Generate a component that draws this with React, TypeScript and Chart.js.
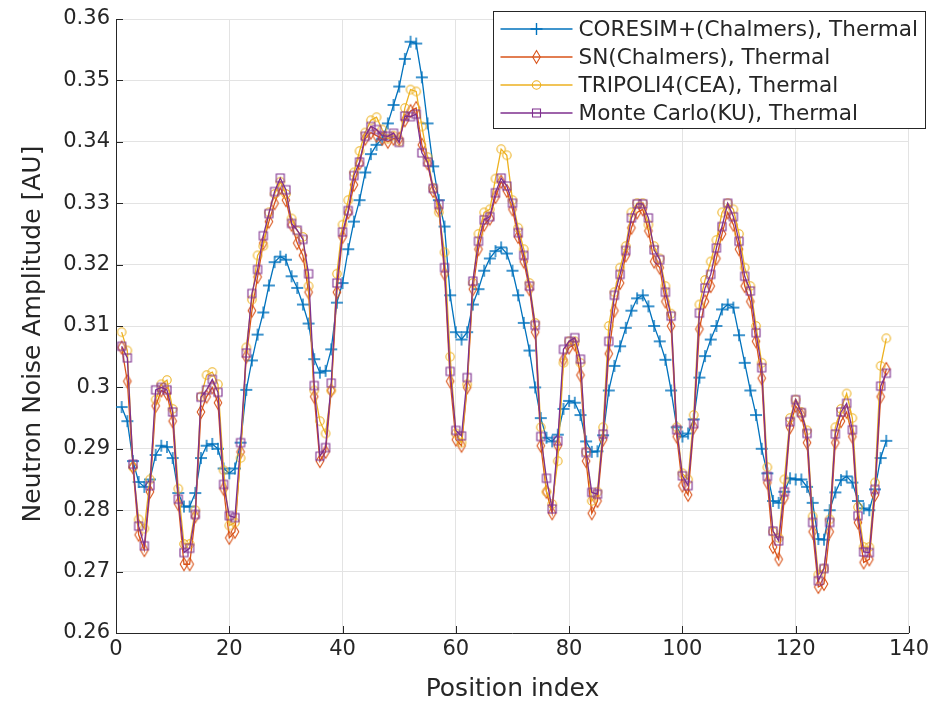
import React, { useEffect, useRef } from 'react';
import { Chart, registerables } from 'chart.js';

Chart.register(...registerables);

// Position index runs 1..136 (one value per position)
const coresim: number[] = [
  0.2968, 0.2945, 0.2880, 0.2846, 0.2838, 0.2850, 0.2890, 0.2905, 0.2903, 0.2885,
  0.2828, 0.2806, 0.2806, 0.2828, 0.2885, 0.2905, 0.2908, 0.2900, 0.2868, 0.2860,
  0.2868, 0.2910, 0.2996, 0.3044, 0.3086, 0.3122, 0.3166, 0.3204, 0.3213, 0.3208,
  0.3181, 0.3162, 0.3135, 0.3104, 0.3046, 0.3024, 0.3027, 0.3062, 0.3138, 0.3170,
  0.3225, 0.3270, 0.3305, 0.3350, 0.3380, 0.3395, 0.3405, 0.3430, 0.3460, 0.3490,
  0.3535, 0.3563, 0.3560, 0.3505, 0.3430, 0.3360, 0.3305, 0.3262, 0.3150, 0.3090,
  0.3078, 0.3090, 0.3135, 0.3160, 0.3190, 0.3210, 0.3222, 0.3228, 0.3218, 0.3190,
  0.3150, 0.3105, 0.3060, 0.3000, 0.2950, 0.2918, 0.2912, 0.2923, 0.2965, 0.2978,
  0.2975, 0.2955, 0.2912, 0.2895, 0.2896, 0.2922, 0.2995, 0.3035, 0.3067, 0.3097,
  0.3125, 0.3145, 0.3150, 0.3132, 0.3100, 0.3075, 0.3045, 0.2995, 0.2935, 0.2920,
  0.2925, 0.2948, 0.3016, 0.3051, 0.3078, 0.3100, 0.3127, 0.3135, 0.3130, 0.3085,
  0.3040, 0.2995, 0.2955, 0.2900, 0.2860, 0.2815, 0.2812, 0.2830, 0.2852, 0.2850,
  0.2850, 0.2838, 0.2812, 0.2753, 0.2752, 0.2800, 0.2829, 0.2849, 0.2855, 0.2845,
  0.2815, 0.2803, 0.2800, 0.2834, 0.2885, 0.2913,
];

const snChalmers: number[] = [
  0.3065, 0.3010, 0.2870, 0.2760, 0.2735, 0.2830, 0.2970, 0.2995, 0.2990, 0.2945,
  0.2810, 0.2712, 0.2712, 0.2790, 0.2960, 0.2985, 0.3000, 0.2975, 0.2835, 0.2755,
  0.2765, 0.2895, 0.3050, 0.3125, 0.3180, 0.3235, 0.3270, 0.3300, 0.3325, 0.3305,
  0.3265, 0.3235, 0.3215, 0.3155, 0.2985, 0.2880, 0.2895, 0.2995, 0.3155, 0.3245,
  0.3285, 0.3330, 0.3365, 0.3405, 0.3415, 0.3410, 0.3405, 0.3400, 0.3405, 0.3405,
  0.3435, 0.3450, 0.3455, 0.3395, 0.3365, 0.3320, 0.3290, 0.3185, 0.3010, 0.2915,
  0.2905, 0.3000, 0.3160, 0.3225, 0.3265, 0.3275, 0.3310, 0.3335, 0.3320, 0.3290,
  0.3245, 0.3205, 0.3160, 0.3090, 0.2905, 0.2830, 0.2795, 0.2905, 0.3045, 0.3065,
  0.3070, 0.3020, 0.2880, 0.2795, 0.2815, 0.2915, 0.3055, 0.3125, 0.3170, 0.3215,
  0.3260, 0.3285, 0.3290, 0.3255, 0.3205, 0.3195, 0.3140, 0.3100, 0.2920, 0.2840,
  0.2825, 0.2935, 0.3095, 0.3140, 0.3165, 0.3210, 0.3250, 0.3285, 0.3265, 0.3225,
  0.3165, 0.3140, 0.3075, 0.3015, 0.2845, 0.2740, 0.2720, 0.2820, 0.2935, 0.2970,
  0.2955, 0.2910, 0.2765, 0.2675, 0.2680, 0.2765, 0.2910, 0.2945, 0.2960, 0.2920,
  0.2780, 0.2715, 0.2720, 0.2825, 0.2985, 0.3030,
];

const tripoli4: number[] = [
  0.3090, 0.3060, 0.2870, 0.2785, 0.2770, 0.2850, 0.2980, 0.3005, 0.3012, 0.2965,
  0.2835, 0.2745, 0.2745, 0.2800, 0.2985, 0.3020, 0.3025, 0.3005, 0.2865, 0.2775,
  0.2780, 0.2885, 0.3065, 0.3143, 0.3215, 0.3230, 0.3285, 0.3315, 0.3335, 0.3315,
  0.3275, 0.3255, 0.3245, 0.3165, 0.2995, 0.2945, 0.2925, 0.2995, 0.3185, 0.3265,
  0.3305, 0.3350, 0.3385, 0.3415, 0.3435, 0.3440, 0.3420, 0.3405, 0.3410, 0.3400,
  0.3455, 0.3485, 0.3482, 0.3425, 0.3375, 0.3325, 0.3285, 0.3220, 0.3050, 0.2925,
  0.2910, 0.3005, 0.3170, 0.3250, 0.3285, 0.3290, 0.3340, 0.3388, 0.3378, 0.3305,
  0.3260, 0.3225, 0.3170, 0.3105, 0.2935, 0.2830, 0.2810, 0.2880, 0.3040, 0.3075,
  0.3075, 0.3040, 0.2895, 0.2815, 0.2830, 0.2935, 0.3100, 0.3155, 0.3195, 0.3230,
  0.3285, 0.3300, 0.3300, 0.3265, 0.3230, 0.3210, 0.3165, 0.3120, 0.2935, 0.2860,
  0.2850, 0.2955, 0.3135, 0.3175, 0.3205, 0.3240, 0.3285, 0.3300, 0.3290, 0.3250,
  0.3195, 0.3165, 0.3100, 0.3040, 0.2870, 0.2765, 0.2755, 0.2850, 0.2950, 0.2980,
  0.2960, 0.2930, 0.2790, 0.2695, 0.2705, 0.2785, 0.2935, 0.2965, 0.2990, 0.2950,
  0.2805, 0.2740, 0.2740, 0.2845, 0.3035, 0.3080,
];

const monteCarloKU: number[] = [
  0.3067, 0.3048, 0.2875, 0.2774, 0.2742, 0.2840, 0.2996, 0.3000, 0.2996, 0.2960,
  0.2818, 0.2731, 0.2738, 0.2793, 0.2984, 0.2996, 0.3013, 0.2992, 0.2842, 0.2791,
  0.2788, 0.2910, 0.3056, 0.3153, 0.3192, 0.3247, 0.3283, 0.3319, 0.3341, 0.3322,
  0.3267, 0.3256, 0.3241, 0.3185, 0.3003, 0.2888, 0.2902, 0.3007, 0.3170, 0.3253,
  0.3288, 0.3345, 0.3367, 0.3409, 0.3425, 0.3420, 0.3410, 0.3409, 0.3414, 0.3399,
  0.3442, 0.3441, 0.3445, 0.3382, 0.3367, 0.3324, 0.3298, 0.3195, 0.3026, 0.2930,
  0.2921, 0.3016, 0.3173, 0.3238, 0.3273, 0.3278, 0.3317, 0.3341, 0.3328, 0.3300,
  0.3252, 0.3215, 0.3165, 0.3101, 0.2920, 0.2852, 0.2802, 0.2913, 0.3062, 0.3075,
  0.3081, 0.3046, 0.2894, 0.2829, 0.2826, 0.2924, 0.3075, 0.3150, 0.3184, 0.3223,
  0.3276, 0.3299, 0.3299, 0.3276, 0.3224, 0.3208, 0.3155, 0.3116, 0.2931, 0.2856,
  0.2840, 0.2941, 0.3121, 0.3162, 0.3184, 0.3227, 0.3262, 0.3300, 0.3278, 0.3238,
  0.3181, 0.3157, 0.3089, 0.3032, 0.2855, 0.2766, 0.2750, 0.2830, 0.2944, 0.2980,
  0.2959, 0.2925, 0.2780, 0.2685, 0.2705, 0.2780, 0.2924, 0.2960, 0.2974, 0.2931,
  0.2791, 0.2732, 0.2731, 0.2834, 0.3002, 0.3023,
];

const seriesLabels: string[] = [
  'CORESIM+(Chalmers), Thermal',
  'SN(Chalmers), Thermal',
  'TRIPOLI4(CEA), Thermal',
  'Monte Carlo(KU), Thermal',
];

const xTicks: number[] = [0, 20, 40, 60, 80, 100, 120, 140];
const yTicks: number[] = [0.26, 0.27, 0.28, 0.29, 0.3, 0.31, 0.32, 0.33, 0.34, 0.35, 0.36];

const xTitle = 'Position index';
const yTitle = 'Neutron Noise Amplitude [AU]';

const COLORS = ['#0072BD', '#D95319', '#EDB120', '#7E2F8E'];
const FONT = 'DejaVu Sans';
const AXIS_COLOR = '#262626';

type MarkerKind = 'plus' | 'diamond' | 'circle' | 'square';
const MARKERS: MarkerKind[] = ['plus', 'diamond', 'circle', 'square'];

function drawMarker(ctx: CanvasRenderingContext2D, kind: MarkerKind, cx: number, cy: number, color: string) {
  ctx.save();
  ctx.strokeStyle = color;
  ctx.lineWidth = kind === 'plus' ? 1.4 : 1.1;
  ctx.beginPath();
  if (kind === 'plus') {
    ctx.moveTo(cx - 6, cy);
    ctx.lineTo(cx + 6, cy);
    ctx.moveTo(cx, cy - 6);
    ctx.lineTo(cx, cy + 6);
  } else if (kind === 'diamond') {
    ctx.moveTo(cx, cy - 6.5);
    ctx.lineTo(cx + 3.8, cy);
    ctx.lineTo(cx, cy + 6.5);
    ctx.lineTo(cx - 3.8, cy);
    ctx.closePath();
  } else if (kind === 'circle') {
    ctx.arc(cx, cy, 4.2, 0, Math.PI * 2);
  } else {
    ctx.rect(cx - 4, cy - 4, 8, 8);
  }
  ctx.stroke();
  ctx.restore();
}

function makeMarkerCanvas(kind: MarkerKind, color: string): HTMLCanvasElement {
  const c = document.createElement('canvas');
  c.width = 16;
  c.height = 16;
  const g = c.getContext('2d') as CanvasRenderingContext2D;
  drawMarker(g, kind, 8, 8, color);
  return c;
}

const innerTicksPlugin = {
  id: 'innerTicks',
  afterDraw(chart: any) {
    const { ctx, chartArea, scales } = chart;
    ctx.save();
    ctx.strokeStyle = AXIS_COLOR;
    ctx.lineWidth = 1;
    ctx.beginPath();
    for (const t of xTicks) {
      const px = Math.round(scales.x.getPixelForValue(t)) + 0.5;
      ctx.moveTo(px, chartArea.bottom);
      ctx.lineTo(px, chartArea.bottom - 7);
    }
    for (const t of yTicks) {
      const py = Math.round(scales.y.getPixelForValue(t)) + 0.5;
      ctx.moveTo(chartArea.left, py);
      ctx.lineTo(chartArea.left + 7, py);
    }
    ctx.stroke();
    // y-axis title, drawn rotated
    ctx.fillStyle = AXIS_COLOR;
    ctx.font = `25px "${FONT}"`;
    ctx.textAlign = 'center';
    ctx.textBaseline = 'middle';
    ctx.translate(33, (chartArea.top + chartArea.bottom) / 2 + 8);
    ctx.rotate(-Math.PI / 2);
    ctx.fillText(yTitle, 0, 0);
    ctx.restore();
  },
};

const boxLegendPlugin = {
  id: 'boxLegend',
  afterDraw(chart: any) {
    const { ctx } = chart;
    const x0 = 493.5;
    const y0 = 11.5;
    const w = 432;
    const h = 117;
    ctx.save();
    ctx.fillStyle = '#ffffff';
    ctx.fillRect(x0, y0, w, h);
    ctx.strokeStyle = AXIS_COLOR;
    ctx.lineWidth = 1;
    ctx.strokeRect(x0, y0, w, h);
    ctx.font = `21.6px "${FONT}"`;
    ctx.textBaseline = 'middle';
    ctx.textAlign = 'left';
    seriesLabels.forEach((label, i) => {
      const cy = y0 + 17.5 + i * 28;
      ctx.strokeStyle = COLORS[i];
      ctx.lineWidth = 1.3;
      ctx.beginPath();
      ctx.moveTo(x0 + 7, cy);
      ctx.lineTo(x0 + 79, cy);
      ctx.stroke();
      drawMarker(ctx, MARKERS[i], x0 + 43, cy, COLORS[i]);
      ctx.fillStyle = AXIS_COLOR;
      ctx.fillText(label, x0 + 85, cy + 1);
    });
    ctx.restore();
  },
};

export default function App() {
  const canvasRef = useRef<HTMLCanvasElement | null>(null);

  useEffect(() => {
    const canvas = canvasRef.current;
    if (!canvas) return;
    const allSeries = [coresim, snChalmers, tripoli4, monteCarloKU];
    const datasets = allSeries.map((vals, i) => ({
      label: seriesLabels[i],
      data: vals.map((v, k) => ({ x: k + 1, y: v })),
      borderColor: COLORS[i],
      backgroundColor: COLORS[i],
      borderWidth: 1.3,
      pointStyle: makeMarkerCanvas(MARKERS[i], COLORS[i]) as any,
      pointRadius: 4,
      pointHoverRadius: 4,
      tension: 0,
      fill: false,
      order: 4 - i,
    }));

    const chart = new Chart(canvas, {
      type: 'line',
      data: { datasets },
      options: {
        animation: false,
        responsive: false,
        maintainAspectRatio: false,
        events: [],
        layout: { padding: { top: 19, right: 22, left: 0, bottom: 0 } },
        plugins: {
          legend: { display: false },
          tooltip: { enabled: false },
        },
        scales: {
          x: {
            type: 'linear',
            min: 0,
            max: 140,
            afterBuildTicks: (scale: any) => {
              scale.ticks = xTicks.map((v) => ({ value: v }));
            },
            afterFit: (scale: any) => {
              scale.height = 73;
            },
            ticks: {
              color: AXIS_COLOR,
              font: { family: FONT, size: 21 },
              padding: 4,
              maxRotation: 0,
              autoSkip: false,
              callback: (v: any) => String(v),
            },
            grid: { color: '#e3e3e3', drawTicks: false, lineWidth: 1 },
            border: { color: AXIS_COLOR, width: 1 },
            title: {
              display: true,
              text: xTitle,
              color: AXIS_COLOR,
              font: { family: FONT, size: 25 },
              padding: { top: 0, bottom: 2 },
            },
          },
          y: {
            type: 'linear',
            min: 0.26,
            max: 0.36,
            afterBuildTicks: (scale: any) => {
              scale.ticks = yTicks.map((v) => ({ value: v }));
            },
            afterFit: (scale: any) => {
              scale.width = 116;
            },
            ticks: {
              color: AXIS_COLOR,
              font: { family: FONT, size: 21 },
              padding: 6,
              autoSkip: false,
              callback: (v: any) => String(Number(Number(v).toFixed(2))),
            },
            grid: { color: '#e3e3e3', drawTicks: false, lineWidth: 1 },
            border: { color: AXIS_COLOR, width: 1 },
            title: { display: false, text: yTitle },
          },
        },
      },
      plugins: [innerTicksPlugin, boxLegendPlugin],
    });

    return () => {
      chart.destroy();
    };
  }, []);

  return (
    <div style={{ position: 'absolute', left: 0, top: 0, width: 933, height: 706, background: '#ffffff' }}>
      <canvas ref={canvasRef} width={933} height={706} style={{ width: 933, height: 706, display: 'block' }} />
    </div>
  );
}
